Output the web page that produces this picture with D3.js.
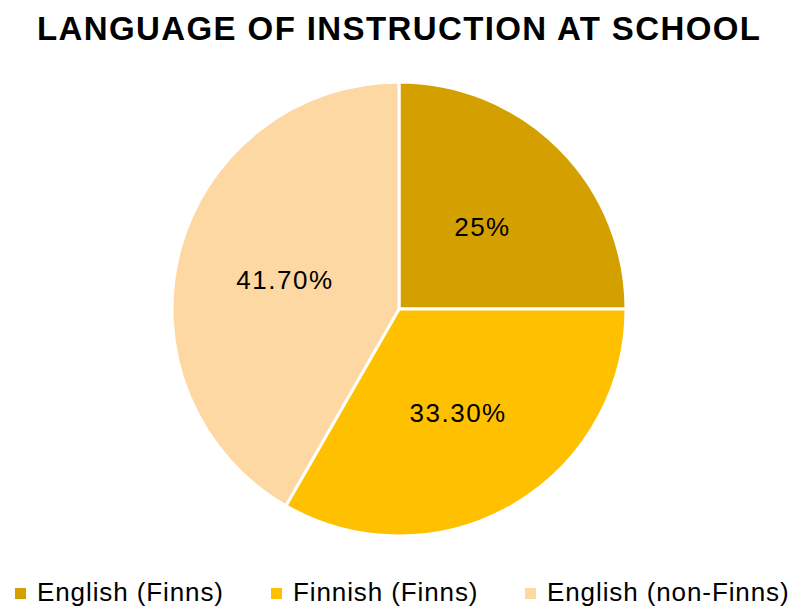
<!DOCTYPE html>
<html>
<head>
<meta charset="utf-8">
<script src="https://cdn.jsdelivr.net/npm/d3@7"></script>
<style>
  body { margin: 0; background: #fff; }
  text { font-family: "Liberation Sans", Arial, sans-serif; }
</style>
</head>
<body>
<svg id="chart" width="801" height="613"></svg>
<script>
var categories = ["English (Finns)", "Finnish (Finns)", "English (non-Finns)"];
var values = [25, 33.3, 41.7];
var labels = ["25%", "33.30%", "41.70%"];
var colors = ["#D4A000", "#FFC000", "#FED8A2"];

var vis = d3.select("#chart"),
    WIDTH = 801,
    cx = 399, cy = 309, R = 227;

// title: anchored at its left edge and stretched to the measured width
vis.append("text")
    .attr("x", 37)
    .attr("y", 40)
    .attr("font-size", 33)
    .attr("font-weight", "bold")
    .attr("textLength", 723)
    .attr("lengthAdjust", "spacing")
    .text("LANGUAGE OF INSTRUCTION AT SCHOOL");

var pie = d3.pie().sort(null).value(function(d) { return d; });
var arc = d3.arc().innerRadius(0).outerRadius(R);
var labelArc = d3.arc().innerRadius(R * 0.52).outerRadius(R * 0.52);

var g = vis.append("g").attr("transform", "translate(" + cx + "," + cy + ")");
var arcs = pie(values);

g.selectAll("path")
    .data(arcs)
    .enter().append("path")
    .attr("d", arc)
    .attr("fill", function(d, i) { return colors[i]; })
    .attr("stroke", "#fff")
    .attr("stroke-width", 3)
    .attr("stroke-linejoin", "round");

g.selectAll("text.lbl")
    .data(arcs)
    .enter().append("text")
    .attr("class", "lbl")
    .attr("transform", function(d) { return "translate(" + labelArc.centroid(d) + ")"; })
    .attr("text-anchor", "middle")
    .attr("dy", "0.4em")
    .attr("font-size", 26)
    .attr("letter-spacing", 1.5)
    .text(function(d, i) { return labels[i]; });

// legend
var legendX = [15, 271, 525];
var leg = vis.selectAll("g.leg")
    .data(categories)
    .enter().append("g")
    .attr("class", "leg")
    .attr("transform", function(d, i) { return "translate(" + legendX[i] + ",601)"; });

leg.append("rect")
    .attr("x", 0).attr("y", -13)
    .attr("width", 11).attr("height", 11)
    .attr("fill", function(d, i) { return colors[i]; });

leg.append("text")
    .attr("x", 22)
    .attr("font-size", 26)
    .attr("letter-spacing", 0.9)
    .text(function(d) { return d; });
</script>
</body>
</html>
